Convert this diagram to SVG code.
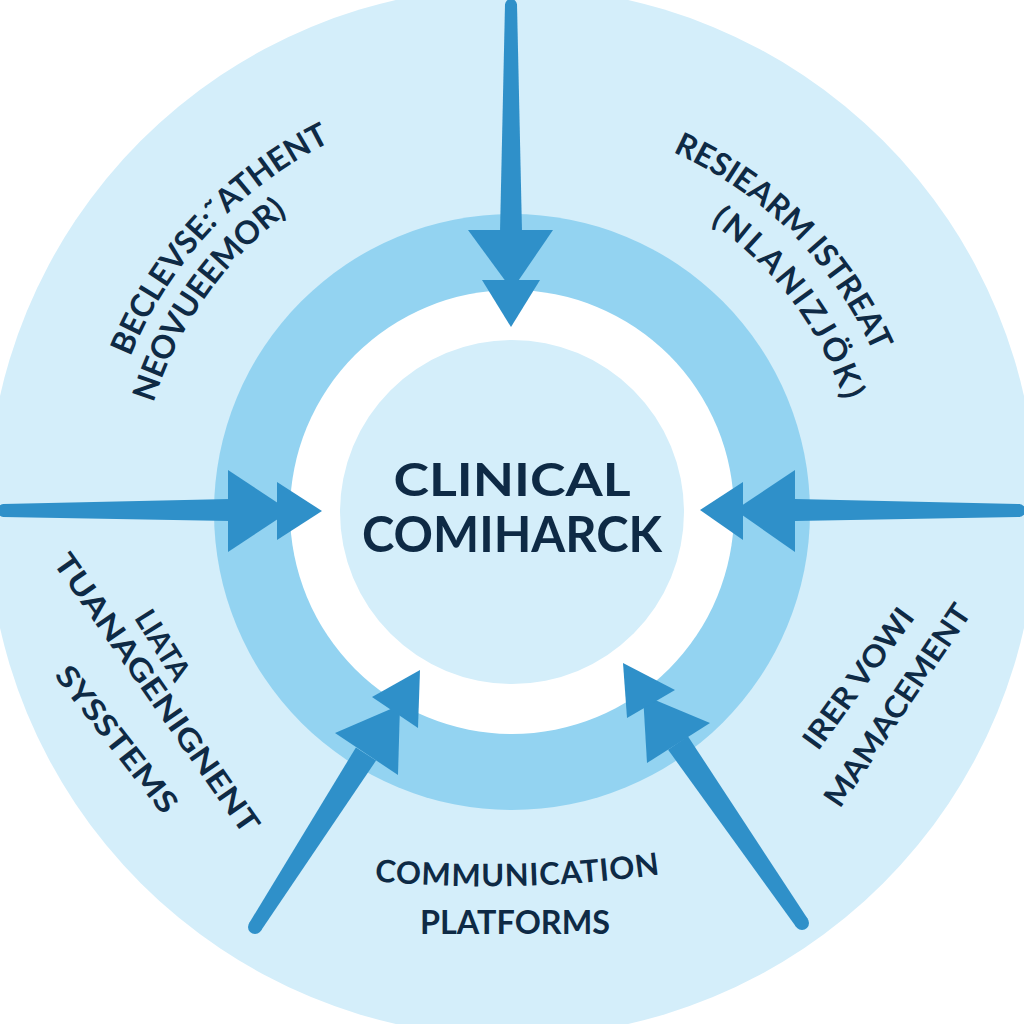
<svg xmlns="http://www.w3.org/2000/svg" width="1024" height="1024" viewBox="0 0 1024 1024">
<style>
.lbl{font-family:Lato,"Open Sans","Liberation Sans",sans-serif;font-weight:700;fill:#0e2a45}
.arw{fill:#2f90c9}
</style>
<defs>
<path id="pTL1" d="M 104.0 454.7 A 412 412 0 0 1 426.3 109.0"/>
<path id="pTL2" d="M 137 512 A 373 373 0 0 1 384.4 161.5"/>
<path id="pTR1" d="M 581.1 124.1 A 395 395 0 0 1 901.1 444.1"/>
<path id="pTR2" d="M 621.6 178.5 A 350 350 0 0 1 861.8 501.0"/>
<path id="pBot" d="M 345 878 Q 515 898 690 870"/>
</defs>
<rect width="1024" height="1024" fill="#ffffff"/>
<g id="rings">
<circle cx="512" cy="512" r="525" fill="#d4eefa"/>
<circle cx="512" cy="512" r="298" fill="#93d3f1"/>
<circle cx="512" cy="512" r="222" fill="#ffffff"/>
</g>
<g id="center-node">
<circle cx="512" cy="512" r="172" fill="#d4eefa"/>
<text class="lbl" x="512" y="496" font-size="45" text-anchor="middle" textLength="237" lengthAdjust="spacingAndGlyphs">CLINICAL</text>
<text class="lbl" x="512" y="552" font-size="49" text-anchor="middle" textLength="300" lengthAdjust="spacingAndGlyphs">COMIHARCK</text>
</g>
<g id="connectors">
<g id="arrow-top">
<polygon class="arw" points="505,4 517,4 522,232 500,232"/>
<circle class="arw" cx="511" cy="5" r="6"/>
<polygon class="arw" points="468,230 553,230 512,290"/>
<polygon class="arw" points="482,280 540,280 511,327"/>
</g>
<g id="arrow-left">
<polygon class="arw" points="3,504 3,517 230,521 230,499"/>
<circle class="arw" cx="4" cy="510.5" r="6.5"/>
<polygon class="arw" points="228,470 228,552 290,511"/>
<polygon class="arw" points="277,482 277,540 322,511"/>
</g>
<g id="arrow-right">
<polygon class="arw" points="1020,504 1020,517 795,521 795,499"/>
<circle class="arw" cx="1019" cy="510.5" r="6.5"/>
<polygon class="arw" points="795,470 795,552 735,510"/>
<polygon class="arw" points="743,482 743,540 700,510"/>
</g>
<g id="arrow-bl">
<polygon class="arw" points="249.1,923.2 355.9,747.5 376.1,760.5 260.9,930.8"/>
<circle class="arw" cx="255" cy="927" r="7"/>
<polygon class="arw" points="335,733 398,775 400,705"/>
<polygon class="arw" points="372,697 418,728 420,670"/>
</g>
<g id="arrow-br">
<polygon class="arw" points="796.2,927.0 668.1,749.8 687.9,736.2 807.8,919.0"/>
<circle class="arw" cx="802" cy="923" r="7"/>
<polygon class="arw" points="647,763 710,723 643,695"/>
<polygon class="arw" points="627,718 675,690 623,663"/>
</g>
</g>
<g id="node-top-left">
<text class="lbl" font-size="32"><textPath href="#pTL1" startOffset="50%" text-anchor="middle">BECLEVSE:˜ATHENT</textPath></text>
<text class="lbl" font-size="32"><textPath href="#pTL2" startOffset="50%" text-anchor="middle">NEOVUEEMOR)</textPath></text>
</g>
<g id="node-top-right">
<text class="lbl" font-size="32"><textPath href="#pTR1" startOffset="50%" text-anchor="middle">RESIEARM ISTREAT</textPath></text>
<text class="lbl" font-size="32" letter-spacing="3"><textPath href="#pTR2" startOffset="50%" text-anchor="middle">(NLANIZJÖK)</textPath></text>
</g>
<g id="node-bottom-left">
<text class="lbl" font-size="29" text-anchor="middle" dy="0.36em" transform="translate(163,645) rotate(58)">LIATA</text>
<text class="lbl" font-size="30" text-anchor="middle" dy="0.36em" transform="translate(157,693) rotate(55)" textLength="334" lengthAdjust="spacingAndGlyphs">TUANAGENIGNENT</text>
<text class="lbl" font-size="30" text-anchor="middle" dy="0.36em" transform="translate(117,739) rotate(52)" textLength="178" lengthAdjust="spacingAndGlyphs">SYSSTEMS</text>
</g>
<g id="node-bottom-right">
<text class="lbl" font-size="30" text-anchor="middle" dy="0.36em" transform="translate(858,678) rotate(-54)" textLength="166" lengthAdjust="spacingAndGlyphs">IRER VOWI</text>
<text class="lbl" font-size="30" text-anchor="middle" dy="0.36em" transform="translate(897,705) rotate(-56)" textLength="237" lengthAdjust="spacingAndGlyphs">MAMACEMENT</text>
</g>
<g id="node-bottom">
<text class="lbl" font-size="31" letter-spacing="0.8"><textPath href="#pBot" startOffset="50%" text-anchor="middle">COMMUNICATION</textPath></text>
<text class="lbl" x="515" y="934" font-size="32" text-anchor="middle" textLength="190" lengthAdjust="spacingAndGlyphs">PLATFORMS</text>
</g>
</svg>
